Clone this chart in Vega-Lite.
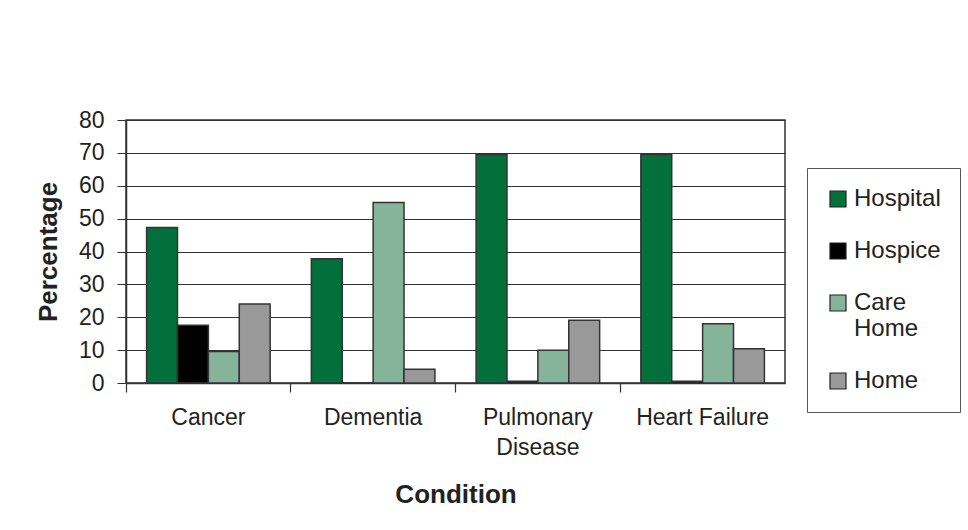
{
  "$schema": "https://vega.github.io/schema/vega-lite/v6.json",
  "autosize": {"type": "none"},
  "width": 659,
  "height": 263,
  "padding": {"left": 126, "top": 120, "right": 183, "bottom": 147},
  "background": "white",
  "data": {"values": [
    {"condition": "Cancer", "place": "Hospital", "pct": 47.3},
    {"condition": "Cancer", "place": "Hospice", "pct": 17.6},
    {"condition": "Cancer", "place": "Care Home", "pct": 9.6},
    {"condition": "Cancer", "place": "Home", "pct": 24.0},
    {"condition": "Dementia", "place": "Hospital", "pct": 37.8},
    {"condition": "Dementia", "place": "Hospice", "pct": 0},
    {"condition": "Dementia", "place": "Care Home", "pct": 54.9},
    {"condition": "Dementia", "place": "Home", "pct": 4.2},
    {"condition": "Pulmonary Disease", "place": "Hospital", "pct": 69.5},
    {"condition": "Pulmonary Disease", "place": "Hospice", "pct": 0.5},
    {"condition": "Pulmonary Disease", "place": "Care Home", "pct": 10.0},
    {"condition": "Pulmonary Disease", "place": "Home", "pct": 19.1},
    {"condition": "Heart Failure", "place": "Hospital", "pct": 69.5},
    {"condition": "Heart Failure", "place": "Hospice", "pct": 0.5},
    {"condition": "Heart Failure", "place": "Care Home", "pct": 18.0},
    {"condition": "Heart Failure", "place": "Home", "pct": 10.4}
  ]},
  "mark": {"type": "bar", "stroke": "#333333", "strokeWidth": 1.5},
  "encoding": {
    "x": {
      "field": "condition", "type": "nominal",
      "sort": ["Cancer", "Dementia", "Pulmonary Disease", "Heart Failure"],
      "scale": {"paddingInner": 0, "paddingOuter": 0},
      "axis": {
        "title": "Condition",
        "titleFont": "Liberation Sans", "titleFontSize": 26, "titleFontWeight": "bold", "titleColor": "#222222",
        "titlePadding": 22,
        "labelFont": "Liberation Sans", "labelFontSize": 23, "labelColor": "#222222",
        "labelAngle": 0,
        "labelExpr": "datum.label == 'Pulmonary Disease' ? ['Pulmonary', 'Disease'] : datum.label",
        "labelLineHeight": 30,
        "labelPadding": 14,
        "bandPosition": 0,
        "tickSize": 9, "tickColor": "#333333", "tickWidth": 1.2,
        "domainColor": "#333333", "domainWidth": 1.5,
        "grid": false
      }
    },
    "xOffset": {
      "field": "place", "type": "nominal",
      "sort": ["Hospital", "Hospice", "Care Home", "Home"],
      "scale": {"paddingInner": 0, "paddingOuter": 0.667}
    },
    "y": {
      "field": "pct", "type": "quantitative",
      "scale": {"domain": [0, 80], "nice": false},
      "axis": {
        "title": "Percentage",
        "titleFont": "Liberation Sans", "titleFontSize": 26, "titleFontWeight": "bold", "titleColor": "#222222",
        "titlePadding": 17,
        "values": [0, 10, 20, 30, 40, 50, 60, 70, 80],
        "labelFont": "Liberation Sans", "labelFontSize": 23, "labelColor": "#222222",
        "labelPadding": 13,
        "tickSize": 9, "tickColor": "#333333",
        "domainColor": "#333333", "domainWidth": 1.5,
        "grid": true, "gridColor": "#333333", "gridWidth": 1.2, "gridOpacity": 1
      }
    },
    "fill": {
      "field": "place", "type": "nominal",
      "sort": ["Hospital", "Hospice", "Care Home", "Home"],
      "scale": {"domain": ["Hospital", "Hospice", "Care Home", "Home"], "range": ["#03703C", "#000000", "#86B49B", "#999999"]},
      "legend": {
        "title": null,
        "orient": "none",
        "legendX": 681,
        "legendY": 48,
        "direction": "vertical",
        "strokeColor": "#555555",
        "padding": 19,
        "symbolType": "square",
        "symbolSize": 256,
        "symbolStrokeColor": "#222222",
        "symbolStrokeWidth": 1.2,
        "symbolOpacity": 1,
        "labelFont": "Liberation Sans", "labelFontSize": 24, "labelColor": "#222222",
        "labelOffset": 4,
        "labelExpr": "datum.label == 'Care Home' ? ['Care', 'Home'] : datum.label",
        "labelLineHeight": 27,
        "rowPadding": 28,
        "labelLimit": 200
      }
    }
  },
  "config": {
    "view": {"stroke": "#333333", "strokeWidth": 1.5},
    "font": "Liberation Sans"
  }
}
